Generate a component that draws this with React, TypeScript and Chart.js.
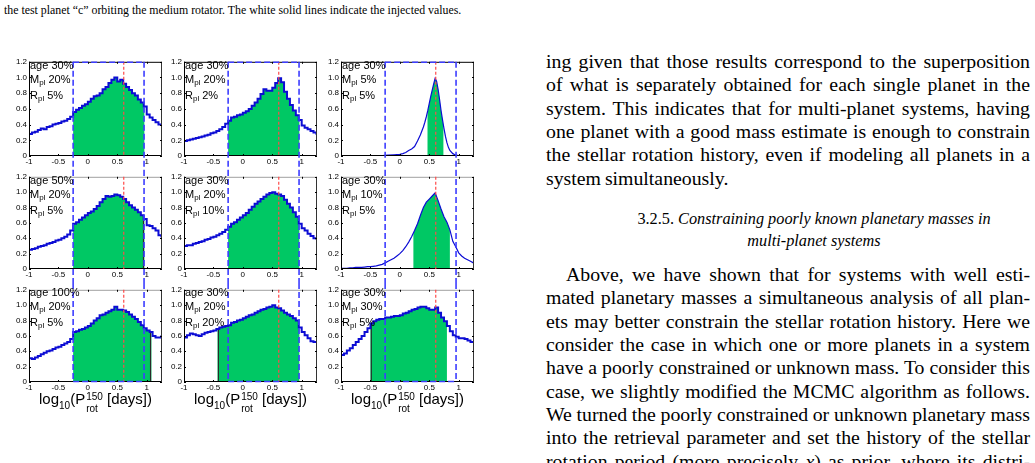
import React, { useEffect, useRef } from "react";
import { Chart, registerables } from "chart.js";
Chart.register(...registerables);

// ---------- data ----------
const X_BINS = [
  -1.0, -0.95, -0.9, -0.85, -0.8, -0.75, -0.7, -0.65, -0.6, -0.55,
  -0.5, -0.45, -0.4, -0.35, -0.3, -0.25, -0.2, -0.15, -0.1, -0.05,
  0.0, 0.05, 0.1, 0.15, 0.2, 0.25, 0.3, 0.35, 0.4, 0.45,
  0.5, 0.55, 0.6, 0.65, 0.7, 0.75, 0.8, 0.85, 0.9, 0.95,
  1.0, 1.05, 1.1, 1.15, 1.2, 1.25,
];
const X_FINE = [
  -1, -0.8, -0.6, -0.4, -0.3, -0.2, -0.1,
  0, 0.05, 0.1, 0.15, 0.2, 0.25, 0.3, 0.35, 0.4,
  0.425, 0.45, 0.475, 0.5, 0.525, 0.55, 0.575, 0.6, 0.625, 0.65, 0.675, 0.7, 0.725, 0.75, 0.775, 0.8, 0.825, 0.85,
  0.9, 0.95, 1.0, 1.1, 1.25,
];

const PANEL_1_1 = [
  0.28, 0.30, 0.31, 0.33, 0.35, 0.34, 0.37, 0.38, 0.40, 0.41,
  0.42, 0.44, 0.45, 0.47, 0.50, 0.56, 0.59, 0.61, 0.64, 0.66,
  0.69, 0.73, 0.76, 0.77, 0.80, 0.85, 0.88, 0.93, 0.97, 1.00,
  0.95, 0.97, 0.92, 0.88, 0.84, 0.80, 0.77, 0.72, 0.68, 0.63,
  0.53, 0.49, 0.46, 0.43, 0.40, 0.39,
];
const PANEL_1_2 = [
  0.19, 0.20, 0.21, 0.22, 0.23, 0.24, 0.25, 0.26, 0.27, 0.29,
  0.30, 0.32, 0.34, 0.37, 0.41, 0.45, 0.49, 0.50, 0.52, 0.53,
  0.55, 0.57, 0.60, 0.64, 0.68, 0.73, 0.79, 0.85, 0.83, 0.83,
  0.87, 0.93, 0.99, 0.94, 0.82, 0.73, 0.65, 0.58, 0.52, 0.46,
  0.39, 0.36, 0.34, 0.32, 0.30, 0.27,
];
const PANEL_1_3 = [
  0, 0, 0.002, 0.004, 0.006, 0.01, 0.015,
  0.02, 0.03, 0.045, 0.07, 0.09, 0.12, 0.19, 0.27, 0.37,
  0.43, 0.50, 0.58, 0.67, 0.76, 0.84, 0.92, 0.99, 0.95, 0.85, 0.72, 0.58, 0.46, 0.35, 0.25, 0.17, 0.11, 0.07,
  0.03, 0.01, 0.005, 0, 0,
];
const PANEL_2_1 = [
  0.25, 0.26, 0.27, 0.29, 0.30, 0.31, 0.33, 0.34, 0.35, 0.37,
  0.38, 0.40, 0.42, 0.45, 0.50, 0.59, 0.61, 0.64, 0.67, 0.70,
  0.73, 0.75, 0.78, 0.82, 0.87, 0.91, 0.95, 0.94, 0.95, 0.97,
  0.96, 0.94, 0.91, 0.87, 0.83, 0.80, 0.77, 0.74, 0.70, 0.65,
  0.57, 0.56, 0.53, 0.50, 0.44, 0.41,
];
const PANEL_2_2 = [
  0.30, 0.31, 0.31, 0.33, 0.34, 0.35, 0.36, 0.38, 0.39, 0.41,
  0.42, 0.44, 0.46, 0.48, 0.51, 0.55, 0.59, 0.61, 0.64, 0.67,
  0.70, 0.73, 0.77, 0.81, 0.85, 0.88, 0.91, 0.94, 0.97, 0.99,
  1.00, 0.98, 0.97, 0.95, 0.90, 0.85, 0.80, 0.74, 0.68, 0.59,
  0.53, 0.50, 0.46, 0.43, 0.40, 0.38,
];
const PANEL_2_3 = [
  0.01, 0.01, 0.01, 0.015, 0.015, 0.02, 0.02, 0.02, 0.025, 0.03,
  0.03, 0.035, 0.04, 0.05, 0.06, 0.08, 0.10, 0.12, 0.14, 0.17,
  0.20, 0.24, 0.29, 0.35, 0.42, 0.50, 0.59, 0.70, 0.80, 0.87,
  0.91, 0.95, 0.99, 0.89, 0.78, 0.68, 0.61, 0.51, 0.36, 0.29,
  0.21, 0.17, 0.14, 0.12, 0.10, 0.08,
];
const PANEL_3_1 = [
  0.31, 0.30, 0.32, 0.34, 0.36, 0.38, 0.40, 0.41, 0.43, 0.45,
  0.46, 0.48, 0.50, 0.52, 0.56, 0.65, 0.66, 0.68, 0.69, 0.71,
  0.73, 0.76, 0.80, 0.83, 0.87, 0.88, 0.90, 0.92, 0.94, 0.98,
  0.94, 0.94, 0.93, 0.91, 0.88, 0.85, 0.82, 0.78, 0.74, 0.70,
  0.67, 0.65, 0.60, 0.58, 0.58, 0.61,
];
const PANEL_3_2 = [
  0.58, 0.61, 0.63, 0.62, 0.61, 0.60, 0.62, 0.64, 0.65, 0.66,
  0.67, 0.69, 0.71, 0.72, 0.73, 0.74, 0.77, 0.78, 0.80, 0.81,
  0.83, 0.85, 0.87, 0.88, 0.90, 0.92, 0.94, 0.95, 0.97, 0.98,
  1.00, 0.97, 0.96, 0.93, 0.90, 0.88, 0.86, 0.83, 0.80, 0.71,
  0.65, 0.61, 0.57, 0.53, 0.52, 0.52,
];
const PANEL_3_3 = [
  0.35, 0.37, 0.41, 0.44, 0.48, 0.52, 0.56, 0.60, 0.65, 0.70,
  0.76, 0.79, 0.81, 0.82, 0.82, 0.84, 0.84, 0.85, 0.86, 0.86,
  0.87, 0.89, 0.90, 0.92, 0.94, 0.95, 0.97, 0.98, 0.98, 0.96,
  0.94, 0.94, 0.97, 0.90, 0.84, 0.79, 0.73, 0.66, 0.61, 0.59,
  0.57, 0.57, 0.56, 0.54, 0.52, 0.51,
];

// credible-interval bounds (green), per panel
const GREEN_LO = [-0.25, -0.25, 0.47, -0.25, -0.25, 0.23, -0.25, -0.43, -0.5];
const GREEN_HI = [0.96, 0.96, 0.74, 0.96, 0.96, 0.85, 1.08, 0.96, 0.8];
const GREEN_EDGES = [[], [], [], [0.96], [], [], [1.08], [-0.43], [-0.5]];

// prior box and injected value
const BOX_LO = -0.25;
const BOX_HI = 0.955;
const INJECTED = 0.61;

const AGE_LABELS = ["30%", "30%", "30%", "50%", "30%", "30%", "100%", "30%", "30%"];
const MPL_LABELS = ["20%", "20%", "5%", "20%", "20%", "10%", "20%", "20%", "30%"];
const RPL_LABELS = ["5%", "2%", "5%", "5%", "10%", "5%", "5%", "20%", "5%"];

const X_TICKS = [-1, -0.5, 0, 0.5, 1];
const X_TICK_LABELS = ["-1", "-0.5", "0", "0.5", "1"];
const Y_TICKS = [0, 0.2, 0.4, 0.6, 0.8, 1.0, 1.2];
const Y_TICK_LABELS = ["0", "0.2", "0.4", "0.6", "0.8", "1.0", "1.2"];
const X_MIN = -1;
const X_MAX = 1.26;

const CAPTION =
  "the test planet \u201cc\u201d orbiting the medium rotator. The white solid lines indicate the injected values.";
const PARA1 = [
  "ing given that those results correspond to the superposition",
  "of what is separately obtained for each single planet in the",
  "system. This indicates that for multi-planet systems, having",
  "one planet with a good mass estimate is enough to constrain",
  "the stellar rotation history, even if modeling all planets in a",
  "system simultaneously.",
];
const HEAD_NUM = "3.2.5.";
const HEAD_L1 = "Constraining poorly known planetary masses in";
const HEAD_L2 = "multi-planet systems";
const PARA2 = [
  "Above, we have shown that for systems with well esti-",
  "mated planetary masses a simultaneous analysis of all plan-",
  "ets may better constrain the stellar rotation history. Here we",
  "consider the case in which one or more planets in a system",
  "have a poorly constrained or unknown mass. To consider this",
  "case, we slightly modified the MCMC algorithm as follows.",
  "We turned the poorly constrained or unknown planetary mass",
  "into the retrieval parameter and set the history of the stellar",
];
const PARA2_LAST_A = "rotation period (more precisely ";
const PARA2_LAST_X = "x";
const PARA2_LAST_B = ") as prior, where its distri-";

// ---------- styles / layout ----------
const SANS = "'Liberation Sans', Arial, Helvetica, sans-serif";
const SERIF = "'Liberation Serif', 'Times New Roman', Times, serif";
const BLUE = "#0c0cd4";
const GREEN = "#00c864";
const RED = "#ff4a4a";
const BOX_BLUE = "#3d3dff";

const PANELS = [
  { xs: X_BINS, ys: PANEL_1_1, stepped: true, lw: 2 },
  { xs: X_BINS, ys: PANEL_1_2, stepped: true, lw: 2 },
  { xs: X_FINE, ys: PANEL_1_3, stepped: false, lw: 1.2 },
  { xs: X_BINS, ys: PANEL_2_1, stepped: true, lw: 2 },
  { xs: X_BINS, ys: PANEL_2_2, stepped: true, lw: 2 },
  { xs: X_BINS, ys: PANEL_2_3, stepped: false, lw: 1.2 },
  { xs: X_BINS, ys: PANEL_3_1, stepped: true, lw: 2 },
  { xs: X_BINS, ys: PANEL_3_2, stepped: true, lw: 2 },
  { xs: X_BINS, ys: PANEL_3_3, stepped: true, lw: 2 },
];

const COL_LEFT = [29, 184, 341];
const ROW_TOP = [55, 170, 283];
const ROW_H = [115, 113, 113];
const ROW_PAD_TOP = [6, 6, 5];
const PLOT_W = 133;
const Y_AXIS_W = 24;
const X_AXIS_H = 14;
const RIGHT_PAD = 8;
const CANVAS_W = Y_AXIS_W + PLOT_W + RIGHT_PAD;

function seg(ctx: CanvasRenderingContext2D, x1: number, y1: number, x2: number, y2: number) {
  ctx.beginPath();
  ctx.moveTo(x1, y1);
  ctx.lineTo(x2, y2);
  ctx.stroke();
}

function Panel({ idx }: { idx: number }) {
  const ref = useRef<HTMLCanvasElement>(null);
  const row = Math.floor(idx / 3);
  const col = idx % 3;

  useEffect(() => {
    const cfg = PANELS[idx];
    const points = cfg.xs.map((x, i) => ({ x, y: cfg.ys[i] }));

    const fillPlugin = {
      id: "greenFill",
      beforeDatasetsDraw(chart: any) {
        const { ctx, chartArea: a, scales } = chart;
        const xs = scales.x;
        const ys = scales.y;
        const pts = chart.getDatasetMeta(0).data as any[];
        const base = ys.getPixelForValue(0);
        const xl = xs.getPixelForValue(GREEN_LO[idx]);
        const xh = xs.getPixelForValue(GREEN_HI[idx]);
        ctx.save();
        ctx.beginPath();
        ctx.rect(xl, a.top, xh - xl, base - a.top);
        ctx.clip();
        ctx.beginPath();
        ctx.moveTo(pts[0].x, base);
        ctx.lineTo(pts[0].x, pts[0].y);
        for (let i = 1; i < pts.length; i++) {
          if (cfg.stepped) ctx.lineTo(pts[i].x, pts[i - 1].y);
          ctx.lineTo(pts[i].x, pts[i].y);
        }
        ctx.lineTo(pts[pts.length - 1].x, base);
        ctx.closePath();
        ctx.fillStyle = GREEN;
        ctx.fill();
        ctx.clip();
        ctx.strokeStyle = "#2a2a2a";
        ctx.lineWidth = 1.3;
        for (const e of GREEN_EDGES[idx]) {
          const px = xs.getPixelForValue(e);
          const ex = e <= GREEN_LO[idx] + 1e-9 ? px + 0.8 : px - 0.8;
          seg(ctx, ex, a.top, ex, base);
        }
        ctx.restore();
      },
    };

    const overlayPlugin = {
      id: "overlay",
      afterDraw(chart: any) {
        const { ctx, chartArea: a, scales, height } = chart;
        const xs = scales.x;
        const ys = scales.y;
        ctx.save();
        ctx.lineWidth = 1;
        // frame
        ctx.strokeStyle = row === 0 ? "#000" : "#a0a0a0";
        seg(ctx, a.left, a.top + 0.5, a.right, a.top + 0.5);
        ctx.strokeStyle = "#000";
        seg(ctx, a.left + 0.5, a.top, a.left + 0.5, a.bottom);
        seg(ctx, a.left, a.bottom - 0.5, a.right, a.bottom - 0.5);
        ctx.strokeStyle = "#333";
        seg(ctx, a.right - 0.5, a.top, a.right - 0.5, a.bottom);
        // inward ticks
        ctx.strokeStyle = "#000";
        for (const v of X_TICKS) {
          const px = Math.round(xs.getPixelForValue(v)) + 0.5;
          seg(ctx, px, a.bottom, px, a.bottom - 2);
          seg(ctx, px, a.top, px, a.top + 2);
        }
        for (const v of Y_TICKS) {
          const py = Math.round(ys.getPixelForValue(v)) + 0.5;
          seg(ctx, a.left, py, a.left + 2, py);
          seg(ctx, a.right, py, a.right - 2, py);
        }
        // injected value (red dashed)
        ctx.setLineDash([3, 2]);
        ctx.strokeStyle = RED;
        ctx.lineWidth = 1.2;
        const xr = xs.getPixelForValue(INJECTED);
        seg(ctx, xr, a.top, xr, a.bottom);
        // prior box (blue dashed), continuing across rows
        ctx.setLineDash([6, 3]);
        ctx.strokeStyle = BOX_BLUE;
        ctx.lineWidth = 1.6;
        const xl = xs.getPixelForValue(BOX_LO);
        const xh = xs.getPixelForValue(BOX_HI);
        const top = row === 0 ? a.top : 0;
        const bot = row === 2 ? a.bottom : height;
        seg(ctx, xl, top, xl, bot);
        seg(ctx, xh, top, xh, bot);
        if (row === 0) seg(ctx, xl, a.top + 0.5, xh, a.top + 0.5);
        if (row === 2) seg(ctx, xl, a.bottom - 0.5, xh, a.bottom - 0.5);
        ctx.restore();
      },
    };

    const chart = new Chart(ref.current as HTMLCanvasElement, {
      type: "line",
      data: {
        datasets: [
          {
            data: points,
            borderColor: BLUE,
            borderWidth: cfg.lw,
            pointRadius: 0,
            stepped: cfg.stepped,
            fill: false,
            tension: 0,
          } as any,
        ],
      },
      options: {
        animation: false,
        responsive: false,
        maintainAspectRatio: false,
        events: [],
        layout: { padding: { top: ROW_PAD_TOP[row], right: RIGHT_PAD, bottom: 0, left: 0 } },
        plugins: { legend: { display: false }, tooltip: { enabled: false } },
        scales: {
          x: {
            type: "linear",
            min: X_MIN,
            max: X_MAX,
            afterBuildTicks: (axis: any) => {
              axis.ticks = X_TICKS.map((v) => ({ value: v }));
            },
            afterFit: (axis: any) => {
              axis.height = X_AXIS_H;
            },
            ticks: {
              autoSkip: false,
              maxRotation: 0,
              padding: 1,
              color: "#000",
              font: { family: SANS, size: 8 },
              callback: (_v: any, i: number) => X_TICK_LABELS[i],
            },
            grid: { display: false, drawTicks: false },
            border: { display: false },
          },
          y: {
            type: "linear",
            min: 0,
            max: 1.2,
            afterBuildTicks: (axis: any) => {
              axis.ticks = Y_TICKS.map((v) => ({ value: v }));
            },
            afterFit: (axis: any) => {
              axis.width = Y_AXIS_W;
            },
            ticks: {
              autoSkip: false,
              padding: 2,
              color: "#000",
              font: { family: SANS, size: 8 },
              callback: (_v: any, i: number) => Y_TICK_LABELS[i],
            },
            grid: { display: false, drawTicks: false },
            border: { display: false },
          },
        },
      } as any,
      plugins: [fillPlugin, overlayPlugin],
    });
    return () => chart.destroy();
  }, [idx]);

  return (
    <canvas
      ref={ref}
      width={CANVAS_W}
      height={ROW_H[row]}
      style={{
        position: "absolute",
        left: COL_LEFT[col] - Y_AXIS_W,
        top: ROW_TOP[row],
        width: CANVAS_W,
        height: ROW_H[row],
      }}
    />
  );
}

function Annotation({ idx }: { idx: number }) {
  const row = Math.floor(idx / 3);
  const col = idx % 3;
  const plotTop = ROW_TOP[row] + ROW_PAD_TOP[row];
  const sub = { fontSize: 8, verticalAlign: "-2px" } as React.CSSProperties;
  return (
    <div
      style={{
        position: "absolute",
        left: COL_LEFT[col] + 1,
        top: plotTop - 2,
        font: `11px ${SANS}`,
        lineHeight: "13.5px",
        whiteSpace: "nowrap",
        color: "#000",
      }}
    >
      <div>age {AGE_LABELS[idx]}</div>
      <div>
        M<span style={sub}>pl</span> {MPL_LABELS[idx]}
      </div>
      <div>
        R<span style={sub}>pl</span> {RPL_LABELS[idx]}
      </div>
    </div>
  );
}

function AxisTitle({ col }: { col: number }) {
  return (
    <div
      style={{
        position: "absolute",
        left: COL_LEFT[col] - 10,
        width: PLOT_W + 20,
        top: 390,
        textAlign: "center",
        font: `15px ${SANS}`,
        lineHeight: "18px",
        whiteSpace: "nowrap",
        color: "#000",
      }}
    >
      log<span style={{ fontSize: 10, verticalAlign: "-5px" }}>10</span>(P
      <span
        style={{
          display: "inline-flex",
          flexDirection: "column",
          fontSize: 10,
          lineHeight: "12px",
          verticalAlign: "4px",
          textAlign: "left",
          marginLeft: 1,
        }}
      >
        <span>150</span>
        <span>rot</span>
      </span>{" "}
      [days])
    </div>
  );
}

const JUSTIFY = { textAlign: "justify", textAlignLast: "justify" } as any;

export default function App() {
  const idxs = [0, 1, 2, 3, 4, 5, 6, 7, 8];
  return (
    <div
      style={{
        position: "fixed",
        left: 0,
        top: 0,
        width: 1035,
        height: 463,
        background: "#fff",
        overflow: "hidden",
        color: "#000",
      }}
    >
      <div
        style={{
          position: "absolute",
          left: 4,
          top: 4,
          font: `11.85px ${SERIF}`,
          lineHeight: "12px",
          whiteSpace: "nowrap",
        }}
      >
        {CAPTION}
      </div>

      {idxs.map((i) => (
        <Panel key={"p" + i} idx={i} />
      ))}
      {idxs.map((i) => (
        <Annotation key={"a" + i} idx={i} />
      ))}
      {[0, 1, 2].map((c) => (
        <AxisTitle key={"t" + c} col={c} />
      ))}

      <div
        style={{
          position: "absolute",
          left: 546,
          top: 50,
          width: 484,
          font: `19.8px ${SERIF}`,
          lineHeight: "23.33px",
          wordSpacing: "-1px",
        }}
      >
        {PARA1.map((t, i) =>
          i === PARA1.length - 1 ? (
            <div key={i} style={{ textAlign: "left" }}>
              {t}
            </div>
          ) : (
            <div key={i} style={JUSTIFY}>
              {t}
            </div>
          )
        )}
      </div>

      <div
        style={{
          position: "absolute",
          left: 564,
          width: 500,
          top: 208,
          textAlign: "center",
          font: `16.3px ${SERIF}`,
          lineHeight: "21.7px",
          whiteSpace: "nowrap",
        }}
      >
        <div>
          {HEAD_NUM} <i>{HEAD_L1}</i>
        </div>
        <div>
          <i>{HEAD_L2}</i>
        </div>
      </div>

      <div
        style={{
          position: "absolute",
          left: 546,
          top: 263,
          width: 484,
          font: `19.8px ${SERIF}`,
          lineHeight: "23.33px",
          wordSpacing: "-1px",
        }}
      >
        {PARA2.map((t, i) => (
          <div key={i} style={{ ...JUSTIFY, paddingLeft: i === 0 ? 20 : 0 }}>
            {t}
          </div>
        ))}
        <div style={JUSTIFY}>
          {PARA2_LAST_A}
          <i>{PARA2_LAST_X}</i>
          {PARA2_LAST_B}
        </div>
      </div>
    </div>
  );
}
